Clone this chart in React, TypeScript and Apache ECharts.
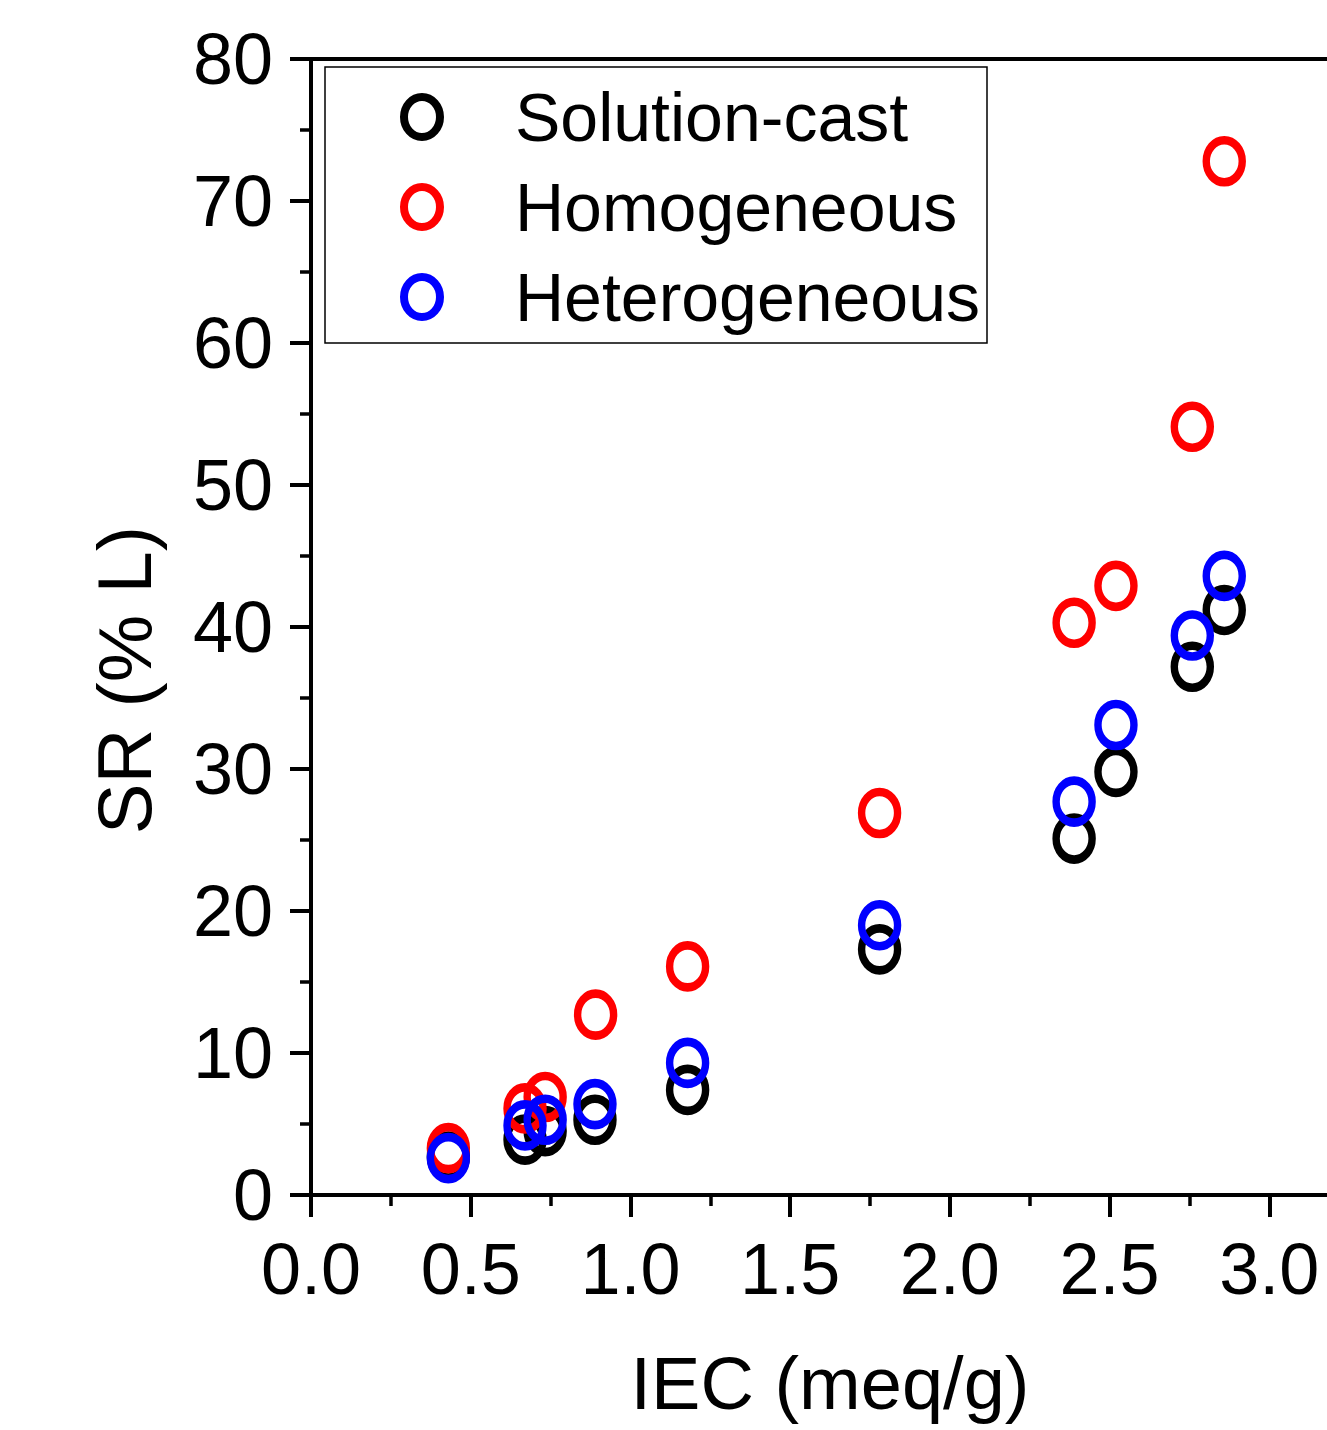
import React, { useEffect, useRef } from "react";
import * as echarts from "echarts";

const seriesNames = ["Solution-cast", "Homogeneous", "Heterogeneous"];
const seriesColors = ["#000000", "#ff0000", "#0000ff"];

const solutionCast: number[][] = [
  [0.43, 2.7], [0.67, 3.9], [0.733, 4.5], [0.889, 5.3], [1.179, 7.4],
  [1.78, 17.3], [2.389, 25.1], [2.52, 29.8], [2.759, 37.2], [2.859, 41.2],
];
const homogeneous: number[][] = [
  [0.43, 3.3], [0.67, 6.1], [0.733, 6.9], [0.891, 12.7], [1.179, 16.1],
  [1.78, 26.9], [2.389, 40.3], [2.52, 42.9], [2.759, 54.1], [2.859, 72.8],
];
const heterogeneous: number[][] = [
  [0.43, 2.6], [0.67, 4.9], [0.733, 5.3], [0.889, 6.4], [1.179, 9.3],
  [1.78, 19.0], [2.389, 27.7], [2.52, 33.1], [2.759, 39.4], [2.859, 43.6],
];

const xTitle = "IEC (meq/g)";
const yTitle = "SR (% L)";

const FONT = "'Liberation Sans', Arial, Helvetica, sans-serif";
const ELLIPSE =
  "path://M1,0 C1.5523,0 2,0.4477 2,1 C2,1.5523 1.5523,2 1,2 C0.4477,2 0,1.5523 0,1 C0,0.4477 0.4477,0 1,0 Z";

export default function App() {
  const ref = useRef<HTMLDivElement>(null);

  useEffect(() => {
    if (!ref.current) return;
    const chart = echarts.init(ref.current, undefined, { renderer: "svg" });
    const allData = [solutionCast, homogeneous, heterogeneous];

    const option: any = {
      animation: false,
      backgroundColor: "#ffffff",
      grid: { left: 311, top: 59, bottom: 235, right: 0, containLabel: false },
      xAxis: [
        {
          type: "value",
          min: 0,
          max: 3.5,
          interval: 0.5,
          position: "bottom",
          axisLine: { show: true, onZero: false, lineStyle: { color: "#000", width: 4 } },
          axisTick: { show: true, inside: false, length: 22, lineStyle: { color: "#000", width: 4 } },
          minorTick: { show: true, splitNumber: 2, length: 11, lineStyle: { color: "#000", width: 3.5 } },
          splitLine: { show: false },
          minorSplitLine: { show: false },
          axisLabel: {
            show: true,
            margin: 38,
            color: "#000",
            fontSize: 72,
            fontFamily: FONT,
            showMaxLabel: false,
            formatter: (v: number) => v.toFixed(1),
          },
        },
        {
          type: "value",
          min: 0,
          max: 3.5,
          position: "top",
          axisLine: { show: true, onZero: false, lineStyle: { color: "#000", width: 4 } },
          axisTick: { show: false },
          axisLabel: { show: false },
          splitLine: { show: false },
        },
      ],
      yAxis: {
        type: "value",
        min: 0,
        max: 80,
        interval: 10,
        axisLine: { show: true, onZero: false, lineStyle: { color: "#000", width: 4 } },
        axisTick: { show: true, inside: false, length: 21, lineStyle: { color: "#000", width: 4 } },
        minorTick: { show: true, splitNumber: 2, length: 11, lineStyle: { color: "#000", width: 3.5 } },
        splitLine: { show: false },
        minorSplitLine: { show: false },
        axisLabel: {
          show: true,
          margin: 38,
          color: "#000",
          fontSize: 72,
          fontFamily: FONT,
        },
      },
      legend: {
        show: true,
        orient: "vertical",
        left: 400,
        top: 83,
        padding: 0,
        itemGap: 22,
        itemWidth: 36,
        itemHeight: 40,
        symbolKeepAspect: false,
        itemStyle: { borderWidth: 8 },
        textStyle: {
          color: "#000",
          fontSize: 68,
          fontFamily: FONT,
          lineHeight: 68,
          padding: [0, 0, 0, 70],
        },
        data: seriesNames.map((n) => ({ name: n, icon: ELLIPSE })),
      },
      series: seriesNames.map((name, i) => ({
        name,
        type: "scatter",
        xAxisIndex: 0,
        data: allData[i],
        symbol: ELLIPSE,
        symbolSize: [36, 42],
        itemStyle: {
          color: "rgba(255,255,255,0)",
          borderColor: seriesColors[i],
          borderWidth: 8,
          opacity: 1,
        },
        emphasis: { disabled: true },
      })),
      graphic: [
        {
          type: "rect",
          z: 0,
          shape: { x: 325, y: 67, width: 662, height: 276 },
          style: { fill: "none", stroke: "#000", lineWidth: 1.5 },
        },
        {
          type: "text",
          x: 830,
          y: 1383,
          style: {
            text: xTitle,
            fontSize: 74,
            fontFamily: FONT,
            fill: "#000",
            align: "center",
            verticalAlign: "middle",
          },
        },
        {
          type: "text",
          x: 124,
          y: 680,
          rotation: Math.PI / 2,
          style: {
            text: yTitle,
            fontSize: 76,
            fontFamily: FONT,
            fill: "#000",
            align: "center",
            verticalAlign: "middle",
          },
        },
      ],
    };

    chart.setOption(option);
    return () => {
      chart.dispose();
    };
  }, []);

  return (
    <div
      style={{
        position: "absolute",
        left: 0,
        top: 0,
        width: 1327,
        height: 1430,
        overflow: "hidden",
        background: "#fff",
      }}
    >
      <div ref={ref} style={{ width: 1429, height: 1430 }} />
    </div>
  );
}
